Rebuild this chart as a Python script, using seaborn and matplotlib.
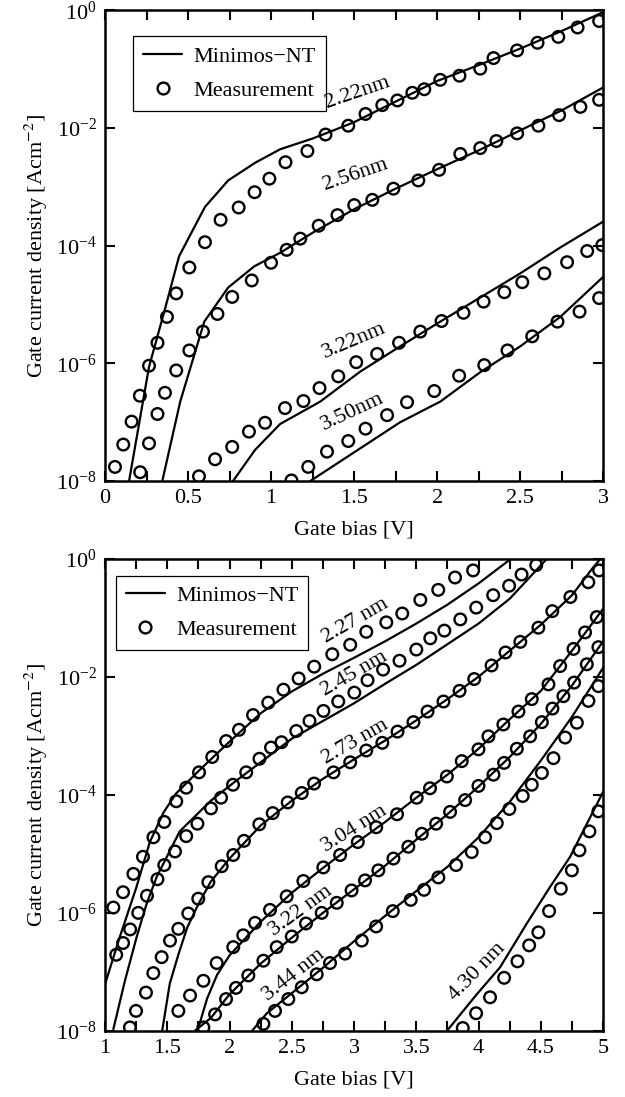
import numpy as np
import matplotlib
matplotlib.use("Agg")
import matplotlib.pyplot as plt
import seaborn as sns
from matplotlib.lines import Line2D
from matplotlib.ticker import MultipleLocator, NullLocator, FuncFormatter, LogFormatterMathtext

# ---- top panel: oxide thickness series, log10 of J [A/cm^2] vs gate bias [V]
t222_meas_v = [0.06, 0.11, 0.16, 0.21, 0.265, 0.316, 0.373, 0.429, 0.508, 0.602, 0.696, 0.805,
               0.901, 0.99, 1.087, 1.219, 1.328, 1.465, 1.569, 1.67, 1.761, 1.851, 1.923, 2.019,
               2.135, 2.26, 2.34, 2.482, 2.605, 2.73, 2.846, 2.976]
t222_meas_j = [-7.76, -7.38, -6.99, -6.55, -6.04, -5.65, -5.21, -4.81, -4.37, -3.94, -3.56, -3.35,
               -3.09, -2.86, -2.58, -2.39, -2.11, -1.96, -1.76, -1.61, -1.53, -1.40, -1.34, -1.18,
               -1.11, -0.99, -0.81, -0.68, -0.55, -0.45, -0.29, -0.18]
t222_sim_v = [0.145, 0.265, 0.357, 0.446, 0.602, 0.742, 0.904, 1.055, 1.248, 1.357, 1.5, 1.75,
              2.0, 2.25, 2.5, 2.75, 3.0]
t222_sim_j = [-8.0, -6.06, -5.12, -4.18, -3.34, -2.89, -2.59, -2.36, -2.18, -2.06, -1.90, -1.55,
              -1.20, -0.93, -0.65, -0.35, -0.03]

t256_meas_v = [0.212, 0.265, 0.316, 0.361, 0.429, 0.508, 0.59, 0.677, 0.766, 0.884, 1.0, 1.094,
               1.176, 1.287, 1.40, 1.501, 1.61, 1.737, 1.887, 2.012, 2.14, 2.26, 2.357, 2.482,
               2.61, 2.735, 2.863, 2.976]
t256_meas_j = [-7.85, -7.36, -6.86, -6.50, -6.12, -5.78, -5.46, -5.16, -4.87, -4.59, -4.29, -4.07,
               -3.88, -3.66, -3.48, -3.31, -3.22, -3.03, -2.89, -2.71, -2.44, -2.34, -2.22, -2.09,
               -1.96, -1.78, -1.64, -1.52]
t256_sim_v = [0.345, 0.453, 0.598, 0.742, 0.899, 1.055, 1.25, 1.5, 1.75, 2.0, 2.25, 2.5, 2.75, 3.0]
t256_sim_j = [-8.0, -6.65, -5.29, -4.71, -4.35, -4.12, -3.78, -3.38, -3.03, -2.70, -2.38, -2.04,
              -1.70, -1.31]

t322_meas_v = [0.566, 0.663, 0.766, 0.867, 0.964, 1.084, 1.195, 1.292, 1.405, 1.513, 1.639, 1.771,
               1.899, 2.027, 2.159, 2.28, 2.405, 2.513, 2.646, 2.783, 2.904, 2.995]
t322_meas_j = [-7.92, -7.63, -7.42, -7.16, -7.01, -6.76, -6.64, -6.42, -6.22, -5.98, -5.84, -5.65,
               -5.46, -5.28, -5.14, -4.95, -4.79, -4.62, -4.47, -4.28, -4.09, -3.99]
t322_sim_v = [0.771, 0.904, 1.055, 1.296, 1.537, 1.778, 2.019, 2.26, 2.501, 2.742, 3.0]
t322_sim_j = [-8.0, -7.47, -7.03, -6.65, -6.14, -5.71, -5.29, -4.88, -4.47, -4.03, -3.59]

t350_meas_v = [1.123, 1.224, 1.337, 1.465, 1.569, 1.699, 1.819, 1.983, 2.133, 2.284, 2.424, 2.573,
               2.725, 2.858, 2.976]
t350_meas_j = [-7.99, -7.76, -7.50, -7.32, -7.11, -6.88, -6.66, -6.47, -6.21, -6.03, -5.78, -5.54,
               -5.29, -5.12, -4.89]
t350_sim_v = [1.236, 1.778, 2.019, 2.26, 2.501, 2.742, 3.0]
t350_sim_j = [-8.0, -7.0, -6.65, -6.15, -5.71, -5.21, -4.53]

# ---- bottom panel
b227_meas_v = [1.067, 1.145, 1.228, 1.305, 1.389, 1.476, 1.572, 1.652, 1.755, 1.861, 1.973, 2.076,
               2.189, 2.311, 2.433, 2.555, 2.68, 2.825, 2.969, 3.098, 3.259, 3.387, 3.532, 3.676,
               3.811, 3.956]
b227_meas_j = [-5.91, -5.65, -5.34, -5.05, -4.72, -4.46, -4.11, -3.88, -3.62, -3.36, -3.09, -2.90,
               -2.65, -2.44, -2.22, -2.03, -1.83, -1.62, -1.46, -1.24, -1.08, -0.93, -0.70, -0.53,
               -0.32, -0.20]
b227_sim_v = [1.0, 1.12, 1.25, 1.36, 1.47, 1.57, 1.75, 2.0, 2.25, 2.5, 2.75, 3.0, 3.25, 3.5,
              3.75, 4.0, 4.25]
b227_sim_j = [-7.21, -6.40, -5.58, -4.80, -4.30, -3.98, -3.60, -3.10, -2.62, -2.25, -1.95, -1.68,
              -1.40, -1.10, -0.78, -0.42, -0.02]

b245_meas_v = [1.09, 1.145, 1.202, 1.267, 1.337, 1.421, 1.476, 1.562, 1.652, 1.742, 1.851, 1.932,
               2.028, 2.134, 2.24, 2.333, 2.417, 2.536, 2.642, 2.754, 2.873, 3.002, 3.108, 3.233,
               3.365, 3.5, 3.612, 3.725, 3.853, 3.981, 4.117, 4.245, 4.345, 4.463]
b245_meas_j = [-6.71, -6.51, -6.28, -6.00, -5.71, -5.43, -5.19, -4.96, -4.70, -4.49, -4.23, -4.05,
               -3.83, -3.62, -3.39, -3.20, -3.11, -2.92, -2.75, -2.58, -2.42, -2.27, -2.06, -1.88,
               -1.73, -1.54, -1.35, -1.22, -1.03, -0.83, -0.62, -0.46, -0.27, -0.11]
b245_sim_v = [1.067, 1.16, 1.254, 1.335, 1.415, 1.6, 1.85, 2.03, 2.25, 2.5, 2.75, 3.0, 3.25, 3.5,
              3.75, 4.0, 4.25, 4.55]
b245_sim_j = [-7.97, -7.15, -6.41, -5.84, -5.39, -4.62, -4.10, -3.80, -3.45, -3.05, -2.75, -2.45,
              -2.12, -1.80, -1.45, -1.10, -0.68, 0.0]

b273_meas_v = [1.20, 1.249, 1.329, 1.388, 1.455, 1.522, 1.589, 1.669, 1.749, 1.83, 1.937, 2.03,
               2.116, 2.239, 2.347, 2.467, 2.58, 2.679, 2.835, 2.969, 3.098, 3.227, 3.349, 3.477,
               3.59, 3.718, 3.847, 3.965, 4.104, 4.216, 4.335, 4.48, 4.592, 4.737, 4.881, 4.968]
b273_meas_j = [-7.94, -7.66, -7.35, -7.02, -6.75, -6.47, -6.27, -6.01, -5.76, -5.48, -5.21, -5.02,
               -4.78, -4.50, -4.31, -4.13, -3.97, -3.81, -3.62, -3.45, -3.25, -3.12, -2.93, -2.77,
               -2.59, -2.42, -2.24, -2.04, -1.81, -1.59, -1.41, -1.17, -0.89, -0.65, -0.40, -0.20]
b273_sim_v = [1.459, 1.52, 1.59, 1.66, 1.75, 1.85, 2.0, 2.25, 2.5, 2.75, 3.0, 3.25, 3.5, 3.75,
              4.0, 4.25, 4.5, 4.75, 4.92, 5.0]
b273_sim_j = [-8.0, -7.2, -6.7, -6.25, -5.85, -5.47, -5.08, -4.52, -4.10, -3.73, -3.40, -3.08,
              -2.74, -2.38, -2.00, -1.56, -1.12, -0.62, -0.15, 0.05]

b304_meas_v = [1.589, 1.683, 1.79, 1.897, 2.03, 2.11, 2.205, 2.325, 2.459, 2.593, 2.753, 2.888,
               3.03, 3.178, 3.345, 3.503, 3.61, 3.745, 3.865, 3.999, 4.079, 4.199, 4.32, 4.427,
               4.561, 4.655, 4.762, 4.855, 4.949]
b304_meas_j = [-7.66, -7.40, -7.15, -6.85, -6.58, -6.38, -6.17, -5.95, -5.72, -5.46, -5.23, -5.02,
               -4.80, -4.55, -4.33, -4.05, -3.89, -3.69, -3.43, -3.23, -3.01, -2.81, -2.59, -2.38,
               -2.13, -1.82, -1.53, -1.25, -0.99]
b304_sim_v = [1.742, 1.82, 1.9, 2.0, 2.25, 2.5, 2.75, 3.0, 3.25, 3.5, 3.75, 4.0, 4.25, 4.5, 4.75, 5.0]
b304_sim_j = [-8.0, -7.45, -7.05, -6.72, -6.15, -5.66, -5.24, -4.84, -4.46, -4.05, -3.66, -3.22,
              -2.72, -2.24, -1.56, -0.85]

b322_meas_v = [1.79, 1.884, 1.972, 2.052, 2.151, 2.272, 2.379, 2.50, 2.614, 2.74, 2.861, 2.98,
               3.088, 3.195, 3.316, 3.436, 3.544, 3.659, 3.771, 3.892, 3.999, 4.119, 4.205, 4.307,
               4.414, 4.508, 4.593, 4.681, 4.767, 4.869, 4.962]
b322_meas_j = [-7.94, -7.72, -7.46, -7.27, -7.06, -6.81, -6.58, -6.40, -6.18, -6.00, -5.83, -5.62,
               -5.45, -5.28, -5.08, -4.88, -4.66, -4.49, -4.29, -4.09, -3.85, -3.66, -3.46, -3.22,
               -3.01, -2.77, -2.54, -2.33, -2.10, -1.79, -1.50]
b322_sim_v = [1.72, 1.85, 2.0, 2.25, 2.5, 2.75, 3.0, 3.25, 3.5, 3.75, 4.0, 4.25, 4.5, 4.75, 5.0]
b322_sim_j = [-8.0, -7.78, -7.38, -6.86, -6.42, -6.00, -5.60, -5.20, -4.76, -4.33, -3.86, -3.36,
              -2.80, -2.15, -1.40]

b344_meas_v = [2.272, 2.365, 2.472, 2.58, 2.70, 2.807, 2.928, 3.062, 3.177, 3.311, 3.455, 3.562,
               3.677, 3.819, 3.945, 4.052, 4.146, 4.247, 4.354, 4.427, 4.508, 4.601, 4.695, 4.789,
               4.882, 4.962]
b344_meas_j = [-7.88, -7.66, -7.46, -7.26, -7.04, -6.85, -6.69, -6.47, -6.23, -5.97, -5.78, -5.61,
               -5.40, -5.19, -4.97, -4.72, -4.48, -4.24, -4.02, -3.83, -3.63, -3.38, -3.03, -2.78,
               -2.41, -2.16]
b344_sim_v = [2.18, 2.3, 2.5, 2.75, 3.0, 3.25, 3.5, 3.75, 4.0, 4.25, 4.5, 4.75, 5.0]
b344_sim_j = [-8.0, -7.70, -7.36, -6.93, -6.48, -6.05, -5.63, -5.22, -4.72, -4.12, -3.42, -2.68, -1.85]

b430_meas_v = [3.873, 3.98, 4.092, 4.205, 4.312, 4.406, 4.48, 4.566, 4.66, 4.749, 4.81, 4.89, 4.962]
b430_meas_j = [-7.95, -7.70, -7.43, -7.10, -6.82, -6.55, -6.33, -5.97, -5.59, -5.28, -4.94, -4.62, -4.28]
b430_sim_v = [3.745, 3.985, 4.173, 4.387, 4.574, 4.735, 5.0]
b430_sim_j = [-8.0, -7.38, -6.92, -6.18, -5.56, -5.05, -3.95]

top_series = [(t222_meas_v, t222_meas_j, t222_sim_v, t222_sim_j),
              (t256_meas_v, t256_meas_j, t256_sim_v, t256_sim_j),
              (t322_meas_v, t322_meas_j, t322_sim_v, t322_sim_j),
              (t350_meas_v, t350_meas_j, t350_sim_v, t350_sim_j)]
bot_series = [(b227_meas_v, b227_meas_j, b227_sim_v, b227_sim_j),
              (b245_meas_v, b245_meas_j, b245_sim_v, b245_sim_j),
              (b273_meas_v, b273_meas_j, b273_sim_v, b273_sim_j),
              (b304_meas_v, b304_meas_j, b304_sim_v, b304_sim_j),
              (b322_meas_v, b322_meas_j, b322_sim_v, b322_sim_j),
              (b344_meas_v, b344_meas_j, b344_sim_v, b344_sim_j),
              (b430_meas_v, b430_meas_j, b430_sim_v, b430_sim_j)]

# labels: text, V, log10 J, angle
top_labels = [("2.22nm", 1.52, -1.40, 19), ("2.56nm", 1.51, -2.80, 19),
              ("3.22nm", 1.50, -5.62, 23), ("3.50nm", 1.49, -6.82, 25)]
bot_labels = [("2.27 nm", 3.01, -1.05, 30), ("2.45 nm", 3.00, -1.95, 30),
              ("2.73 nm", 3.01, -3.10, 30), ("3.04 nm", 3.00, -4.57, 32),
              ("3.22 nm", 2.57, -5.97, 36), ("3.44 nm", 2.52, -7.06, 38),
              ("4.30 nm", 3.99, -6.99, 46)]

sns.set_style("ticks")
plt.rcParams['font.family'] = ['Liberation Serif', 'DejaVu Serif']
plt.rcParams['mathtext.fontset'] = 'stix'
for key in ['text.color', 'axes.labelcolor', 'xtick.color', 'ytick.color', 'axes.edgecolor']:
    plt.rcParams[key] = 'black'

fig = plt.figure(figsize=(6.25, 10.97), dpi=100)
ax_top = fig.add_axes([0.168, 0.5615, 0.797, 0.429])
ax_bot = fig.add_axes([0.168, 0.0602, 0.797, 0.4306])


def draw_panel(ax, series, labels, xlim, xmajor, legend_anchor):
    for mv, mj, sv, sj in series:
        sns.lineplot(x=sv, y=10 ** np.array(sj), ax=ax, color='black', lw=1.6,
                     estimator=None, sort=False)
        sns.scatterplot(x=mv, y=10 ** np.array(mj), ax=ax, marker='o', s=70,
                        facecolor='none', edgecolor='black', linewidth=1.7, zorder=3)
    for txt, v, j, ang in labels:
        ax.text(v, 10 ** j, txt, rotation=ang, rotation_mode='anchor', ha='center',
                va='center', fontsize=16)
    ax.set_yscale('log')
    ax.set_xlim(*xlim)
    ax.set_ylim(1e-8, 1)
    ax.set_yticks([1e-8, 1e-6, 1e-4, 1e-2, 1])
    ax.yaxis.set_major_formatter(LogFormatterMathtext())
    ax.yaxis.set_minor_locator(NullLocator())
    ax.xaxis.set_major_locator(MultipleLocator(xmajor))
    ax.xaxis.set_minor_locator(MultipleLocator(xmajor / 2))
    ax.xaxis.set_major_formatter(FuncFormatter(lambda v, p: f"{v:g}"))
    ax.tick_params(which='both', direction='in', top=True, right=True, length=7.5,
                   width=1.5, labelsize=16, pad=6, colors='black')
    for sp in ax.spines.values():
        sp.set_linewidth(1.8)
        sp.set_color('black')
    ax.set_xlabel('Gate bias [V]', fontsize=16, labelpad=9)
    ax.set_ylabel('Gate current density [Acm$^{-2}$]', fontsize=16, labelpad=4)
    handles = [Line2D([], [], color='black', lw=1.6),
               Line2D([], [], ls='none', marker='o', ms=8.5, mfc='none', mec='black', mew=1.7)]
    leg = ax.legend(handles, ['Minimos\u2212NT', 'Measurement'], loc='upper left',
                    bbox_to_anchor=legend_anchor, borderaxespad=0, fontsize=16,
                    fancybox=False, framealpha=1, edgecolor='black', handlelength=1.75,
                    handletextpad=0.5, labelspacing=0.6, borderpad=0.45)
    leg.get_frame().set_linewidth(0.9)
    leg.set_zorder(1)


draw_panel(ax_top, top_series, top_labels, (0, 3), 0.5, (0.057, 0.945))
draw_panel(ax_bot, bot_series, bot_labels, (1, 5), 0.5, (0.022, 0.964))

fig.savefig('out.png', dpi=100)
